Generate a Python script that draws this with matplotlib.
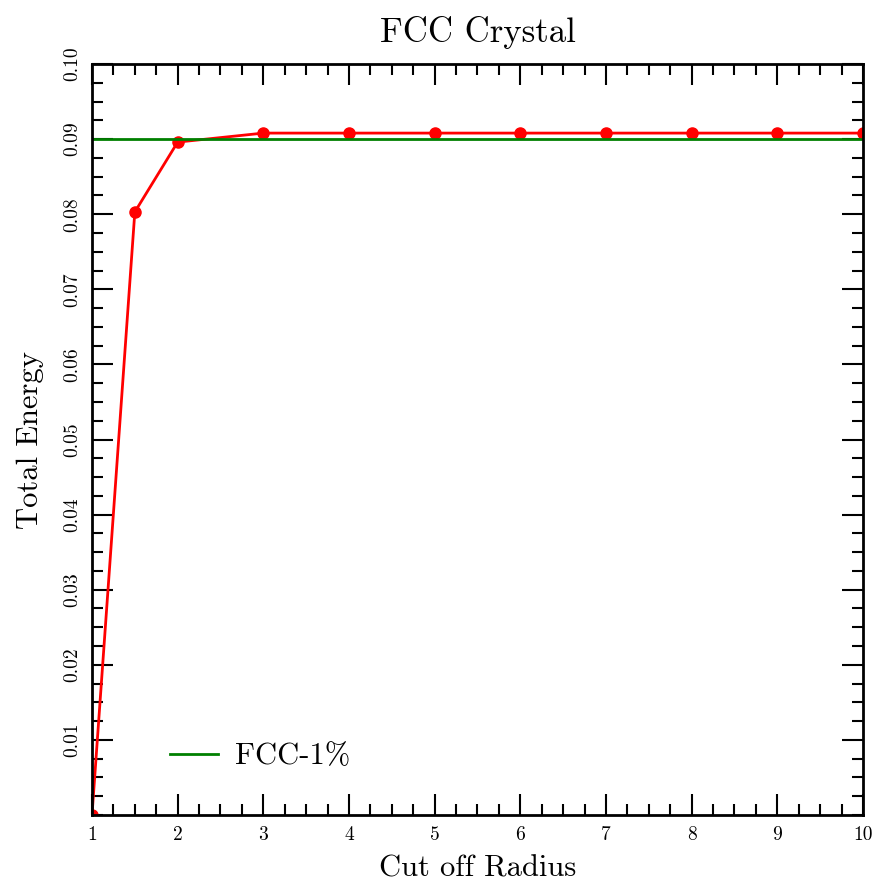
import numpy as np
import matplotlib
matplotlib.use("Agg")
import matplotlib.pyplot as plt
from matplotlib.ticker import MultipleLocator

plt.rcParams['font.family'] = 'serif'
plt.rcParams['font.serif'] = ['cmr10']
plt.rcParams['mathtext.fontset'] = 'cm'
plt.rcParams['axes.formatter.use_mathtext'] = True

# cut-off radius vs. total energy
radius = [1.0, 1.5, 2.0, 3.0, 4.0, 5.0, 6.0, 7.0, 8.0, 9.0, 10.0]
energy = [0.0, 0.0803, 0.0896, 0.0908, 0.0908, 0.0908, 0.0908, 0.0908, 0.0908, 0.0908, 0.0908]
fcc_ref = 0.09

fig = plt.figure(figsize=(8.79, 8.84), dpi=100)
ax = fig.add_axes([92 / 879, 1 - 815 / 884, (863 - 92) / 879, (815 - 64) / 884])

ax.plot(radius, energy, color='red', lw=2, marker='o', ms=8, clip_on=True)
ax.axhline(fcc_ref, color='green', lw=2, label='FCC-1%')

ax.set_xlim(1, 10)
ax.set_ylim(0, 0.1)
ax.xaxis.set_minor_locator(MultipleLocator(0.25))
ax.yaxis.set_minor_locator(MultipleLocator(0.0025))
ax.set_xticks(np.arange(1, 11))
ax.set_xticklabels([str(i) for i in range(1, 11)])
yt = np.round(np.arange(0.01, 0.101, 0.01), 2)
ax.set_yticks(yt)
ax.set_yticklabels([f'{v:.2f}' for v in yt], rotation=90, va='center')

ax.tick_params(which='both', direction='in', top=True, right=True, width=1.5)
ax.tick_params(which='major', length=15, labelsize=14, pad=8)
ax.tick_params(which='minor', length=8)
for s in ax.spines.values():
    s.set_linewidth(2)

ax.set_title('FCC Crystal', fontsize=25, pad=16)
ax.set_xlabel('Cut off Radius', fontsize=22, labelpad=8)
ax.set_ylabel('Total Energy', fontsize=22, labelpad=14)
ax.legend(loc='lower left', bbox_to_anchor=(0.066, 0.023), frameon=False,
          fontsize=22, handlelength=1.57, handletextpad=0.55)

fig.savefig('out.png', dpi=100)
